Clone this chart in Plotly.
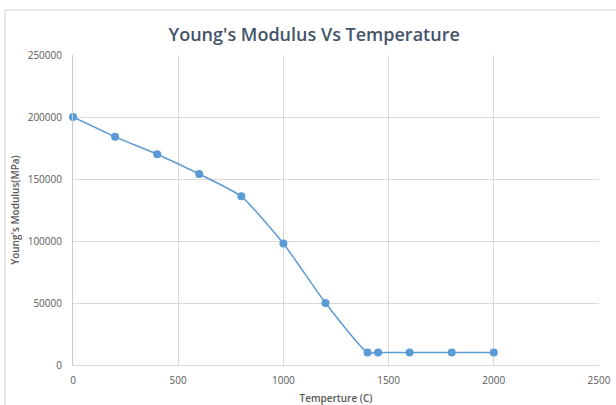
import plotly.graph_objects as go

temperature = [0, 200, 400, 600, 800, 1000, 1200, 1400, 1450, 1600, 1800, 2000]
modulus = [200000, 184000, 170000, 154000, 136000, 98000, 50000, 10000, 10000, 10000, 10000, 10000]

x_ticks = [0, 500, 1000, 1500, 2000, 2500]
y_ticks = [0, 50000, 100000, 150000, 200000, 250000]

fig = go.Figure()
fig.add_trace(go.Scatter(
    x=temperature, y=modulus, mode="lines+markers",
    line=dict(color="#5b9bd5", width=1.5, shape="spline", smoothing=0.5),
    marker=dict(color="#5b9bd5", size=8),
    showlegend=False,
    cliponaxis=False,
))

fig.update_layout(
    width=616, height=405,
    margin=dict(l=73, r=17, t=55, b=40, autoexpand=False),
    paper_bgcolor="white", plot_bgcolor="white",
    title=dict(text="Young's Modulus Vs Temperature", x=0.51, xanchor="center",
               y=1 - 35 / 405, yanchor="middle", automargin=False,
               font=dict(family="Open Sans", size=18, color="#44546a", weight=600)),
    font=dict(family="Open Sans", color="#595959"),
    xaxis=dict(range=[0, 2500], tickvals=x_ticks, ticktext=[str(v) for v in x_ticks],
               showgrid=True, gridcolor="#d9d9d9", gridwidth=1, automargin=False,
               showline=True, linecolor="#d9d9d9", zeroline=False,
               tickfont=dict(size=10, color="#595959"), ticklabelstandoff=6,
               title=dict(text="Temperture (C)", standoff=10,
                          font=dict(size=10, color="#595959", weight=600))),
    yaxis=dict(range=[0, 250000], tickvals=y_ticks, ticktext=[str(v) for v in y_ticks],
               showgrid=True, gridcolor="#d9d9d9", gridwidth=1, automargin=False,
               showline=True, linecolor="#bfcbd9", zeroline=False,
               tickfont=dict(size=10, color="#595959"), ticklabelstandoff=8,
               title=dict(text="Young's Modulus(MPa)", standoff=6,
                          font=dict(size=10, color="#595959", weight=600))),
    shapes=[dict(type="rect", xref="paper", yref="paper",
                 x0=-68 / 526, x1=1.2, y0=-0.3, y1=1 + 45 / 310,
                 line=dict(color="#d0d0d0", width=1), fillcolor="rgba(0,0,0,0)", layer="below")],
)

fig.write_html("out.html", config={"displayModeBar": False},
               post_script="document.body.style.margin='0';document.body.style.overflow='hidden';")
